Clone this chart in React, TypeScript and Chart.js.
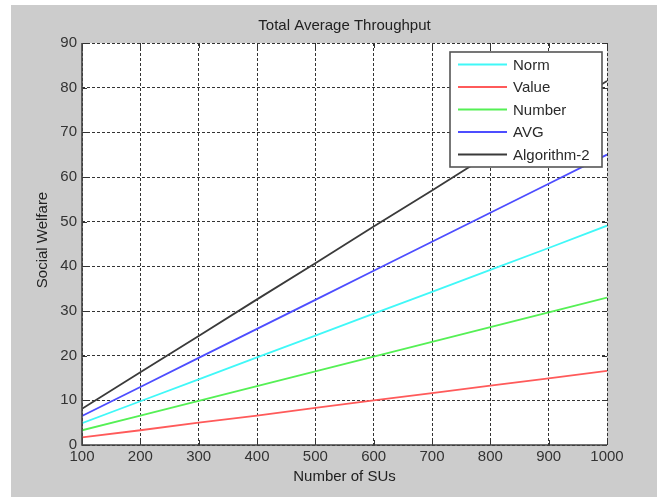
import React, { useEffect, useRef } from "react";
import { Chart, registerables } from "chart.js";

Chart.register(...registerables);

const numberOfSUs = [100, 200, 300, 400, 500, 600, 700, 800, 900, 1000];
const normValues = [4.9, 9.8, 14.7, 19.6, 24.5, 29.4, 34.3, 39.2, 44.1, 49.1];
const valueValues = [1.7, 3.3, 5.0, 6.6, 8.3, 10.0, 11.6, 13.3, 14.9, 16.6];
const numberValues = [3.3, 6.6, 9.9, 13.2, 16.5, 19.8, 23.1, 26.4, 29.7, 33.0];
const avgValues = [6.5, 13.0, 19.5, 26.0, 32.5, 39.0, 45.5, 52.0, 58.5, 65.0];
const algorithm2Values = [8.1, 16.3, 24.4, 32.6, 40.7, 48.9, 57.0, 65.2, 73.3, 81.5];

const seriesNames = ["Norm", "Value", "Number", "AVG", "Algorithm-2"];
const seriesColors = ["#40f8f8", "#ff5a5a", "#55f055", "#4d4dff", "#3a3a3a"];
const seriesValues = [normValues, valueValues, numberValues, avgValues, algorithm2Values];

const titleText = "Total Average Throughput";
const xTitle = "Number of SUs";
const yTitle = "Social Welfare";

const FONT = "'Liberation Sans', Arial, sans-serif";

const decorPlugin = {
  id: "decor",
  beforeDraw(chart: any) {
    const { ctx, width, height, chartArea } = chart;
    ctx.save();
    ctx.fillStyle = "#ffffff";
    ctx.fillRect(0, 0, width, height);
    ctx.fillStyle = "#cccccc";
    ctx.fillRect(11, 5, width - 11, height - 5);
    ctx.fillStyle = "#ffffff";
    ctx.fillRect(chartArea.left, chartArea.top, chartArea.right - chartArea.left, chartArea.bottom - chartArea.top);
    ctx.restore();
  },
  afterDraw(chart: any) {
    const { ctx, chartArea } = chart;
    const { left, right, top, bottom } = chartArea;
    const xs = chart.scales.x;
    const ys = chart.scales.y;
    ctx.save();
    // inner ticks
    ctx.strokeStyle = "#333333";
    ctx.lineWidth = 1;
    ctx.setLineDash([]);
    const tl = 5;
    xs.ticks.forEach((t: any) => {
      const px = Math.round(xs.getPixelForValue(t.value)) + 0.5;
      ctx.beginPath();
      ctx.moveTo(px, bottom);
      ctx.lineTo(px, bottom - tl);
      ctx.moveTo(px, top);
      ctx.lineTo(px, top + tl);
      ctx.stroke();
    });
    ys.ticks.forEach((t: any) => {
      const py = Math.round(ys.getPixelForValue(t.value)) + 0.5;
      ctx.beginPath();
      ctx.moveTo(left, py);
      ctx.lineTo(left + tl, py);
      ctx.moveTo(right, py);
      ctx.lineTo(right - tl, py);
      ctx.stroke();
    });
    // solid left/bottom axes
    ctx.strokeStyle = "#444444";
    ctx.lineWidth = 1.6;
    ctx.beginPath();
    ctx.moveTo(left, top);
    ctx.lineTo(left, bottom);
    ctx.lineTo(right, bottom);
    ctx.stroke();

    // title
    ctx.fillStyle = "#222222";
    ctx.font = `15px ${FONT}`;
    ctx.textAlign = "center";
    ctx.textBaseline = "middle";
    ctx.fillText(titleText, (left + right) / 2, 26);
    // x title
    ctx.fillText(xTitle, (left + right) / 2, 477);
    // y title
    ctx.save();
    ctx.translate(43, (top + bottom) / 2 - 4);
    ctx.rotate(-Math.PI / 2);
    ctx.fillText(yTitle, 0, 0);
    ctx.restore();

    // legend
    const lx = 450, ly = 52, lw = 152, lh = 115;
    ctx.fillStyle = "#ffffff";
    ctx.fillRect(lx, ly, lw, lh);
    ctx.strokeStyle = "#555555";
    ctx.lineWidth = 1.6;
    ctx.strokeRect(lx, ly, lw, lh);
    ctx.textAlign = "left";
    ctx.font = `15px ${FONT}`;
    seriesNames.forEach((name, i) => {
      const y = 64.5 + i * 22.5;
      ctx.strokeStyle = seriesColors[i];
      ctx.lineWidth = 1.8;
      ctx.beginPath();
      ctx.moveTo(458, y);
      ctx.lineTo(507, y);
      ctx.stroke();
      ctx.fillStyle = "#2a2a2a";
      ctx.fillText(name, 513, y + 1);
    });
    ctx.restore();
  },
};

export default function App() {
  const ref = useRef<HTMLCanvasElement | null>(null);
  useEffect(() => {
    document.body.style.margin = "0";
    const canvas = ref.current!;
    const chart = new Chart(canvas, {
      type: "line",
      data: {
        datasets: seriesNames.map((name, i) => ({
          label: name,
          data: numberOfSUs.map((x, j) => ({ x, y: seriesValues[i][j] })),
          borderColor: seriesColors[i],
          backgroundColor: seriesColors[i],
          borderWidth: 1.8,
          pointRadius: 0,
          tension: 0,
          fill: false,
        })),
      },
      options: {
        responsive: false,
        animation: false,
        layout: { padding: { top: 43, right: 50, left: 0, bottom: 0 } },
        plugins: {
          legend: { display: false },
          title: { display: false },
          tooltip: { enabled: false },
        },
        scales: {
          x: {
            type: "linear",
            min: 100,
            max: 1000,
            ticks: {
              stepSize: 100,
              color: "#333333",
              font: { family: FONT, size: 15 },
              padding: 3,
              maxRotation: 0,
              callback: (v: any) => String(v),
            },
            grid: { color: "#333333", lineWidth: 1, drawTicks: false },
            border: { display: false, dash: [3, 2] },
            afterFit: (s: any) => { s.height = 52; },
          },
          y: {
            type: "linear",
            min: 0,
            max: 90,
            ticks: {
              stepSize: 10,
              color: "#333333",
              font: { family: FONT, size: 15 },
              padding: 5,
              callback: (v: any) => String(v),
            },
            grid: { color: "#333333", lineWidth: 1, drawTicks: false },
            border: { display: false, dash: [3, 2] },
            afterFit: (s: any) => { s.width = 82; },
          },
        },
      },
      plugins: [decorPlugin],
    });
    return () => chart.destroy();
  }, []);
  return (
    <div style={{ position: "absolute", left: 0, top: 0, width: 657, height: 497 }}>
      <canvas ref={ref} width={657} height={497} style={{ display: "block", width: 657, height: 497 }} />
    </div>
  );
}
